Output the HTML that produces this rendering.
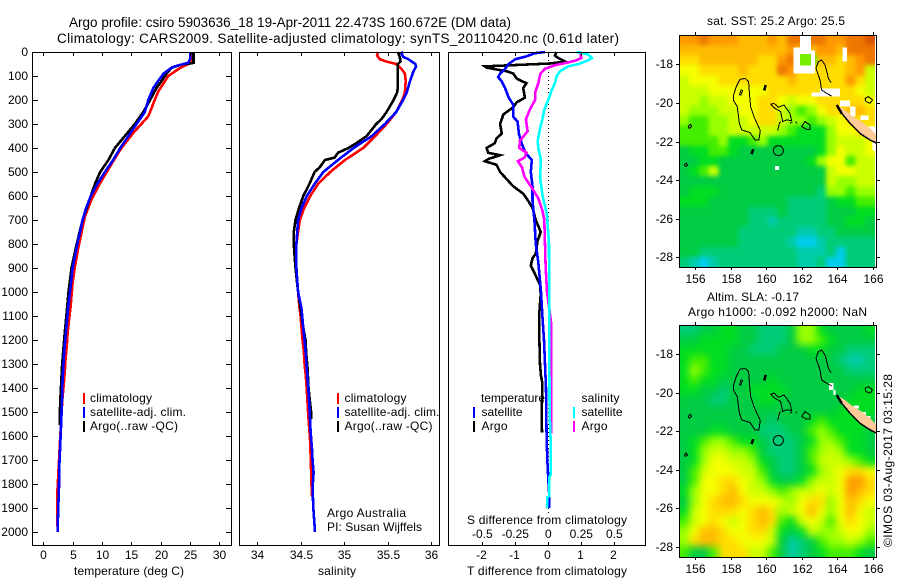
<!DOCTYPE html>
<html>
<head>
<meta charset="utf-8">
<title>Argo profile</title>
<style>
html,body{margin:0;padding:0;background:#fff;}
svg{display:block;font-family:"Liberation Sans",sans-serif;font-size:12px;fill:#000;}
text{fill:#000;}
.t{font-size:13.5px;}
.frame{fill:none;stroke:#000;stroke-width:1;shape-rendering:crispEdges;}
.tick{stroke:#000;stroke-width:1;shape-rendering:crispEdges;}
.prof{fill:none;stroke-width:2.6;shape-rendering:crispEdges;stroke-linejoin:miter;}
.coast{fill:none;stroke:#000;stroke-width:1;shape-rendering:crispEdges;}
.cell{shape-rendering:crispEdges;}
</style>
</head>
<body>
<svg id="chart" xmlns="http://www.w3.org/2000/svg" width="900" height="580" viewBox="0 0 900 580">
  <defs>
    <clipPath id="clipSst"><rect x="680" y="35" width="197" height="232"/></clipPath>
    <clipPath id="clipSla"><rect x="680" y="325" width="197" height="232"/></clipPath>
    <filter id="softSst" filterUnits="userSpaceOnUse" x="640" y="0" width="260" height="300" color-interpolation-filters="sRGB"><feGaussianBlur stdDeviation="2.5"/></filter>
    <filter id="softSla" filterUnits="userSpaceOnUse" x="640" y="290" width="260" height="290" color-interpolation-filters="sRGB"><feGaussianBlur stdDeviation="4"/></filter>
  </defs>
  <rect x="0" y="0" width="900" height="580" fill="#fff"/>

  <text class="t" x="69" y="27" textLength="442" lengthAdjust="spacing">Argo profile: csiro 5903636_18 19-Apr-2011 22.473S 160.672E (DM data)</text>
  <text class="t" x="57" y="43" textLength="562" lengthAdjust="spacing">Climatology: CARS2009. Satellite-adjusted climatology: synTS_20110420.nc (0.61d later)</text>

  <g id="marks"></g>

  <rect class="frame" x="32.5" y="52.5" width="199" height="493"/>
  <rect class="frame" x="239.5" y="52.5" width="200" height="493"/>
  <rect class="frame" x="448.5" y="52.5" width="197" height="493"/>

  <text x="74" y="575" textLength="110" lengthAdjust="spacing">temperature (deg C)</text>
  <text x="318" y="575" textLength="38" lengthAdjust="spacing">salinity</text>
  <text x="467" y="575" textLength="160" lengthAdjust="spacing">T difference from climatology</text>
  <text x="467" y="524" textLength="160" lengthAdjust="spacing">S difference from climatology</text>

  <g>
    <rect x="83" y="393" width="2" height="11" fill="#f00"/>
    <rect x="83" y="407" width="2" height="11" fill="#00f"/>
    <rect x="83" y="421" width="2" height="11" fill="#000"/>
    <text x="90" y="402" textLength="62" lengthAdjust="spacing">climatology</text>
    <text x="90" y="416" textLength="96" lengthAdjust="spacing">satellite-adj. clim.</text>
    <text x="90" y="430" textLength="88" lengthAdjust="spacing">Argo(..raw -QC)</text>
  </g>
  <g>
    <rect x="337" y="393" width="2" height="11" fill="#f00"/>
    <rect x="337" y="407" width="2" height="11" fill="#00f"/>
    <rect x="337" y="421" width="2" height="11" fill="#000"/>
    <text x="344.5" y="402" textLength="62" lengthAdjust="spacing">climatology</text>
    <text x="344.5" y="416" textLength="95" lengthAdjust="spacing">satellite-adj. clim.</text>
    <text x="344.5" y="430" textLength="88" lengthAdjust="spacing">Argo(..raw -QC)</text>
    <text x="327" y="517" textLength="79" lengthAdjust="spacing">Argo Australia</text>
    <text x="327" y="531" textLength="95" lengthAdjust="spacing">PI: Susan Wijffels</text>
  </g>
  <g>
    <text x="481" y="402" textLength="64" lengthAdjust="spacing">temperature</text>
    <rect x="473" y="407" width="2" height="11" fill="#00f"/>
    <rect x="473" y="421" width="2" height="11" fill="#000"/>
    <text x="481.5" y="416" textLength="41" lengthAdjust="spacing">satellite</text>
    <text x="481.5" y="430" textLength="26" lengthAdjust="spacing">Argo</text>
    <text x="581.5" y="402" textLength="38" lengthAdjust="spacing">salinity</text>
    <rect x="573" y="407" width="2" height="11" fill="#0ff"/>
    <rect x="573" y="421" width="2" height="11" fill="#f0f"/>
    <text x="581.5" y="416" textLength="41" lengthAdjust="spacing">satellite</text>
    <text x="581.5" y="430" textLength="26" lengthAdjust="spacing">Argo</text>
  </g>

  <text x="707" y="25" textLength="138" lengthAdjust="spacing">sat. SST: 25.2  Argo: 25.5</text>
  <text x="707" y="301" textLength="92" lengthAdjust="spacing">Altim. SLA: -0.17</text>
  <text x="688" y="316" textLength="179" lengthAdjust="spacing">Argo h1000: -0.092  h2000: NaN</text>
  <text transform="translate(892 547) rotate(-90)" x="0" y="0" textLength="173" lengthAdjust="spacing">©IMOS 03-Aug-2017 03:15:28</text>
</svg>
<script>
/* ---------- profile axis data ---------- */
const depthTicks = [0,100,200,300,400,500,600,700,800,900,1000,1100,1200,1300,1400,1500,1600,1700,1800,1900,2000];
const tempTicks = [0,5,10,15,20,25,30];
const salTicks = [34,34.5,35,35.5,36];
const salTickLabels = ['34','34.5','35','35.5','36'];
const tDiffTicks = [-2,-1,0,1,2];
const sDiffTicks = [-0.5,-0.25,0,0.25,0.5];
const sDiffTickLabels = ['-0.5','-0.25','0','0.25','0.5'];

/* ---------- temperature profiles ---------- */
const tempClimDepth = [0,46,53,67,100,130,164,199,268,338,407,476,546,615,685,754,824,893,962,1061,1117,1172,1228,1276,1325,1373,1450,1600,1839,2000];
const tempClimValue = [25.1,25.3,24.4,23.3,21.3,20.5,19.6,19.0,17.9,15.3,13.1,11.4,9.7,8.2,7.1,6.5,5.9,5.4,5.0,4.66,4.375,4.15,3.98,3.8,3.69,3.52,3.24,2.9,2.39,2.44];
const tempSatDepth = [0,30,45,50,60,70,90,120,150,200,250,300,350,400,450,500,550,600,650,700,750,800,850,900,1000,1103,1172,1242,1311,1394,1450,1533,1630,1728,1811,1894,1990,2000];
const tempSatValue = [25.1,25.0,24.7,23.9,22.4,21.6,20.5,19.6,18.75,17.9,17.3,15.9,14.5,13.1,11.9,10.5,9.2,8.1,7.3,6.7,6.25,5.8,5.4,5.0,4.55,4.09,3.86,3.58,3.41,3.24,3.18,3.07,2.9,2.73,2.67,2.56,2.44,2.44];
const tempArgoDepth = [0,45,48,52,65,90,120,150,200,250,300,350,400,450,500,550,600,650,700,800,900,1000,1103,1172,1242,1311,1394,1450,1533,1555];
const tempArgoValue = [25.6,25.6,25.0,23.6,21.9,21.0,20.2,19.3,18.2,17.05,15.6,13.9,12.2,11.1,9.7,8.8,8.1,7.4,6.7,5.7,4.8,4.3,3.92,3.64,3.41,3.18,3.01,2.9,2.78,2.78];

/* ---------- salinity profiles ---------- */
const salClimDepth = [0,15,30,40,50,70,90,120,170,200,250,300,350,400,450,500,550,600,650,700,750,800,900,1000,1057,1105,1154,1202,1251,1301,1354,1415,1487,1550,1612,1714,1814,1853];
const salClimValue = [35.39,35.38,35.41,35.49,35.60,35.66,35.70,35.71,35.70,35.67,35.60,35.49,35.36,35.22,35.01,34.84,34.70,34.61,34.54,34.49,34.47,34.45,34.45,34.47,34.484,34.50,34.51,34.522,34.537,34.545,34.56,34.572,34.583,34.595,34.607,34.618,34.626,34.626];
const salSatDepth = [0,5,20,30,50,60,80,120,170,200,250,300,350,400,450,500,550,600,650,700,800,900,1000,1045,1072,1120,1179,1235,1290,1350,1415,1492,1582,1655,1703,1752,1815,1900,1975,2000];
const salSatValue = [35.68,35.66,35.68,35.74,35.82,35.83,35.80,35.76,35.72,35.68,35.60,35.47,35.32,35.11,34.93,34.76,34.66,34.57,34.51,34.47,34.45,34.45,34.47,34.495,34.51,34.522,34.537,34.553,34.564,34.576,34.59,34.603,34.614,34.63,34.637,34.649,34.637,34.645,34.66,34.66];
const salArgoDepth = [0,20,40,50,70,150,170,200,250,280,300,350,380,400,420,440,450,480,500,550,600,650,700,750,800,850,900,1000,1100,1150,1200,1260,1320,1400,1500,1530];
const salArgoValue = [35.62,35.64,35.65,35.62,35.62,35.62,35.61,35.57,35.49,35.43,35.37,35.26,35.14,35.05,34.93,34.89,34.78,34.72,34.66,34.60,34.53,34.48,34.44,34.42,34.42,34.43,34.44,34.47,34.51,34.53,34.555,34.565,34.58,34.59,34.62,34.62];

/* ---------- difference profiles ---------- */
const tDiffArgoDepth = [0,15,25,40,48,60,65,72,80,90,110,120,130,150,190,210,230,260,300,340,360,380,400,420,430,445,455,470,500,530,560,590,620,650,700,750,790,840,860,890,920,970,1010,1050,1100,1200,1300,1350,1380,1400,1500,1585];
const tDiffArgoValue = [0.25,0.2,0.3,0.52,0.05,-1.92,-1.87,-1.6,-1.26,-1.06,-0.96,-0.83,-0.66,-0.76,-0.71,-0.96,-1.06,-1.36,-1.46,-1.41,-1.57,-1.62,-1.87,-1.82,-1.46,-1.8,-1.92,-1.57,-1.46,-1.26,-1.06,-0.76,-0.61,-0.48,-0.38,-0.23,-0.33,-0.38,-0.48,-0.53,-0.42,-0.25,-0.23,-0.25,-0.28,-0.27,-0.25,-0.22,-0.18,-0.18,-0.2,-0.19];
const tDiffSatDepth = [0,5,20,30,50,70,90,105,120,150,190,220,270,290,340,380,420,450,500,560,620,700,800,880,1000,1100,1200,1300,1400,1500,1600,1700,1800,1850,1900];
const tDiffSatValue = [-0.1,-0.4,-0.71,-1.0,-1.2,-1.31,-1.46,-1.52,-1.42,-1.31,-1.2,-1.06,-1.06,-0.93,-0.89,-0.81,-0.69,-0.5,-0.53,-0.48,-0.48,-0.42,-0.38,-0.3,-0.22,-0.18,-0.13,-0.1,-0.07,-0.06,-0.05,-0.03,0.01,0.03,0.03];
const sDiffArgoDepth = [0,25,35,45,55,70,90,130,170,200,240,280,330,370,400,420,440,455,480,520,570,610,660,700,800,900,1000,1130,1500,1590];
const sDiffArgoValue = [0.24,0.25,0.21,0.14,0.05,-0.025,-0.06,-0.076,-0.1,-0.1,-0.14,-0.17,-0.157,-0.215,-0.22,-0.165,-0.18,-0.23,-0.2,-0.18,-0.12,-0.076,-0.045,-0.03,-0.025,-0.02,-0.01,0.022,0.022,0.022];
const sDiffSatDepth = [0,10,25,35,50,60,80,100,130,160,200,240,280,320,370,400,450,520,600,680,720,800,1000,1100,1300,1500,1650,1760,1770,1850,1855,1900];
const sDiffSatValue = [0.215,0.3,0.33,0.3,0.23,0.15,0.09,0.063,0.05,0.025,0,-0.03,-0.045,-0.063,-0.08,-0.076,-0.055,-0.063,-0.043,-0.01,-0.005,0.005,0.007,0.008,0.008,0.01,0.02,0.02,0.0076,0.0076,-0.0076,-0.0076];

/* ---------- map data (one letter per cell, low a .. high n) ---------- */
const mapLevels = 'abcdefghijklmn';
const mapColors = ['#00ccee','#00ccaa','#00cc77','#00cc44','#00dd22','#44ee00','#99ff00','#ccff00','#f4ff00','#ffdd00','#ffbb00','#ff9900','#ee7700','#dd5500'];
const sstGrid = [
'llmlllkkklkmmmmllmmn',
'kkkkkkkkkkklkkllkmmm',
'jjkkkkkkjjlmjfkkjklm',
'iijjjjkjjjmljjjjjklh',
'hiiijjjjjjjkjjjjjljh',
'hhhiiiiiijjjjjjjjjih',
'hhghhiiijjihiijjjjji',
'hggghhiijjhgfgijjkkj',
'gffgghhijjhggfghijjj',
'fffgghhhhhgfeeegiiji',
'ffffgeefgeeeeeeghhhi',
'deeffeddddddddegihhi',
'ddeedddddddddegiifhh',
'defhdddddddddddhiihh',
'dddddddddddddddhgghh',
'deeeddddddddddcggfgg',
'eeeddddddddccccdeeff',
'dddddddcccdccccdddee',
'dddddddccbcccccddeed',
'ddddddccccccbbccdddd',
'ddddddcccccbaabccccc',
'ddccccccccccbbbcaccc',
'cbabccccccccbbcaaccc'
];
const slaGrid = [
'ccddeeddcccdggedddde',
'ddeeeeddcccdggfedddd',
'eeeeeddcccdddeeddccc',
'effeedddddddddddcbbc',
'egfeeddddddddddddccc',
'efeedddddedddddddddd',
'eeddcddeeeedddddddee',
'dddccdddeedddddddeee',
'ddddddddddddddddeeee',
'dddddddddcdddefeeeed',
'dddeedddcccddfgfeeed',
'defggfeedcccdeggfeed',
'deghhggfdcccdfghgeed',
'degiihhgedccdfhhhgfe',
'dfhiiihhfdccdeghijji',
'dfiijjihgeddeghhillj',
'egiijkihhgfghhihilkj',
'dgijkkjiiihgijjgikji',
'ehijjjijkjghikigikih',
'fhijihijkjfehihfijih',
'gikkjiijjhedehgghiig',
'gjkkjjiiihdbcdfgghgf',
'fddfjjjhhfdbcdefffed'
];
const mapLonTicks = [156,158,160,162,164,166];
const mapLatTicksSst = [-18,-20,-22,-24,-26,-28];
const mapLatTicksSla = [-18,-20,-22,-24,-26,-28];
/* missing-data patches: lon west, lon east, lat north, lat south */
const sstMissing = [
 [161.89,162.51,-16.48,-17.12],[161.52,162.51,-17.12,-17.29],[161.52,162.74,-17.29,-18.47],
 [164.29,164.55,-17.12,-17.86],[163.02,164.14,-19.26,-19.68],[162.53,163.02,-19.47,-19.68],
 [164.14,164.71,-19.88,-20.19],[164.71,165.01,-20.19,-20.71],[165.31,165.76,-20.64,-20.88],
 [165.74,166.11,-21.23,-21.58],[165.98,166.24,-22.01,-22.47],[160.48,160.71,-23.27,-23.47],
 [166.11,166.4,-16.4,-28.6]
];
const sstGreenPatch = [161.89,162.51,-17.46,-18.07];
const slaMissing = [
 [163.52,163.77,-19.5,-19.85],[163.77,163.9,-19.85,-20.1],[164.89,165.2,-20.65,-20.8],
 [165.3,165.6,-21.0,-21.2],[165.6,165.85,-21.2,-21.4],[166.11,166.4,-16.4,-28.6]
];
/* coastlines as lon,lat pairs */
const coastLoops = [
 [[158.14,-19.64],[158.29,-19.19],[158.51,-18.78],[158.80,-18.73],[159.00,-18.90],[159.04,-19.42],[159.11,-20.19],[159.30,-20.71],[159.66,-21.44],[159.58,-21.92],[159.36,-21.92],[159.08,-21.54],[158.61,-21.40],[158.48,-21.06],[158.36,-20.19],[158.14,-19.85],[158.14,-19.64]],
 [[158.48,-19.6],[158.58,-19.33],[158.66,-19.36],[158.56,-19.6],[158.48,-19.6]],
 [[160.24,-20.07],[160.43,-20.02],[160.67,-20.23],[160.99,-20.11],[161.33,-20.54],[161.42,-20.92],[161.14,-20.88],[160.92,-20.97],[160.80,-20.45],[160.48,-20.28],[160.24,-20.07]],
 [[162.92,-17.86],[163.11,-17.78],[163.30,-18.03],[163.43,-18.47],[163.49,-18.73],[163.64,-18.95]],
 [[162.92,-17.86],[162.79,-18.21],[163.02,-18.81],[163.11,-19.33],[163.39,-19.50],[163.67,-19.64]],
 [[160.63,-21.44],[160.73,-21.06],[160.80,-20.97]],
 [[161.33,-21.06],[161.46,-20.97]],
 [[161.65,-20.97],[161.70,-21.06]],
 [[161.98,-21.23],[162.17,-20.97],[162.45,-21.14],[162.45,-21.37],[162.27,-21.37],[161.98,-21.23]],
 [[155.6,-21.2],[155.74,-21.11],[155.79,-21.23],[155.66,-21.32],[155.6,-21.2]],
 [[155.38,-23.2],[155.5,-23.12],[155.56,-23.24],[155.44,-23.3],[155.38,-23.2]],
 [[165.55,-19.76],[165.74,-19.68],[165.98,-19.85],[165.83,-20.02],[165.6,-19.93],[165.55,-19.76]]
];
const coastThick = [
 [[159.88,-19.36],[159.96,-19.07]],
 [[159.17,-22.66],[159.26,-22.4]],
 [[163.96,-20.11],[164.24,-20.54]]
];
const noumeaLand = [[163.96,-20.11],[164.42,-20.37],[164.87,-20.71],[165.36,-20.97],[165.83,-21.32],[166.2,-21.66],[166.2,-22.09],[165.83,-21.92],[165.27,-21.58],[164.71,-21.06],[164.24,-20.54]];
const noumeaShore = [[164.24,-20.54],[164.71,-21.06],[165.27,-21.58],[165.83,-21.92],[166.2,-22.09]];
const floatLon = 160.672;
const floatLat = -22.473;

/* ---------- scales ---------- */
const yDepth = d => 52 + d * 0.24;
const xTemp = t => 43.3 + t * 5.867;
const xSal = s => 257.3 + (s - 34) * 86.8;
const xTDiff = t => 548.3 + t * 33;
const xSDiff = s => 548.3 + s * 132;
const xLon = lon => 695.3 + (lon - 156) * 17.77;
const ySst = lat => 64.3 + (-18 - lat) * 19.3;
const ySla = lat => 354.3 + (-18 - lat) * 19.27;

const NS = 'http://www.w3.org/2000/svg';
const root = document.getElementById('marks');
function make(tag, attrs, parent) {
  const e = document.createElementNS(NS, tag);
  for (const k in attrs) e.setAttribute(k, attrs[k]);
  (parent || root).appendChild(e);
  return e;
}
function tick(x1, y1, x2, y2) {
  const el = make('line', {x1: x1, y1: y1, x2: x2, y2: y2, class: 'tick'});
  
  
}
function label(x, y, anchor, str) {
  const el = make('text', {x: x, y: y, 'text-anchor': anchor});
  el.textContent = str;
  
  
}
function profile(xs, depths, values, color, name) {
  const pts = depths.map((d, i) => xs(values[i]).toFixed(1) + ',' + yDepth(d).toFixed(1)).join(' ');
  const el = make('polyline', {points: pts, class: 'prof', stroke: color});
  
  
}

/* ---------- difference zero line ---------- */
const zeroLine = make('line', {x1: xTDiff(0), y1: 52, x2: xTDiff(0), y2: 513, stroke: '#000', 'stroke-width': 1, 'stroke-dasharray': '1 3', 'shape-rendering': 'crispEdges'});



/* ---------- profile lines ---------- */
profile(xTemp, tempClimDepth, tempClimValue, '#f00', 'temperature-climatology-line');
profile(xTemp, tempArgoDepth, tempArgoValue, '#000', 'temperature-argo-line');
profile(xTemp, tempSatDepth, tempSatValue, '#00f', 'temperature-satellite-line');
profile(xSal, salClimDepth, salClimValue, '#f00', 'salinity-climatology-line');
profile(xSal, salArgoDepth, salArgoValue, '#000', 'salinity-argo-line');
profile(xSal, salSatDepth, salSatValue, '#00f', 'salinity-satellite-line');
profile(xTDiff, tDiffArgoDepth, tDiffArgoValue, '#000', 't-difference-argo-line');
profile(xTDiff, tDiffSatDepth, tDiffSatValue, '#00f', 't-difference-satellite-line');
profile(xSDiff, sDiffArgoDepth, sDiffArgoValue, '#f0f', 's-difference-argo-line');
profile(xSDiff, sDiffSatDepth, sDiffSatValue, '#0ff', 's-difference-satellite-line');

/* ---------- profile axes ---------- */
depthTicks.forEach(d => {
  const y = Math.round(yDepth(d)) + 0.5;
  tick(32, y, 38, y);
  tick(226, y, 232, y);
  label(28, y + 3.5, 'end', String(d));
});
tempTicks.forEach(t => {
  const x = Math.round(xTemp(t)) + 0.5;
  tick(x, 52, x, 56);
  tick(x, 542, x, 546);
  label(x, 559, 'middle', String(t));
});
salTicks.forEach((s, i) => {
  const x = Math.round(xSal(s)) + 0.5;
  tick(x, 52, x, 56);
  tick(x, 542, x, 546);
  label(x, 559, 'middle', salTickLabels[i]);
});
tDiffTicks.forEach(t => {
  const x = Math.round(xTDiff(t)) + 0.5;
  tick(x, 52, x, 56);
  tick(x, 542, x, 546);
  label(x - 1, 559, 'middle', String(t));
});
sDiffTicks.forEach((s, i) => {
  label(xSDiff(s), 538, 'middle', sDiffTickLabels[i]);
});

/* ---------- maps ---------- */
function drawMap(grid, yLat, top, clipId, filterId, missing, latTicks, prefix) {
  const g = make('g', {'clip-path': 'url(#' + clipId + ')'});
  
  
  const soft = make('g', {filter: 'url(#' + filterId + ')'}, g);
  
  
  const lonStart = 155.1, lonStep = 0.5505, latStart = -16.48, latStep = 0.5226;
  const lastRow = grid.length - 1;
  grid.forEach((row, r) => {
    for (let c = 0; c < row.length; c++) {
      let x0 = xLon(lonStart + c * lonStep), x1 = xLon(lonStart + (c + 1) * lonStep);
      let y0 = yLat(latStart - r * latStep), y1 = yLat(latStart - (r + 1) * latStep);
      if (c === 0) x0 -= 14;
      if (c === row.length - 1) x1 += 14;
      if (r === 0) y0 -= 14;
      if (r === lastRow) y1 += 14;
      const cell = make('rect', {x: x0.toFixed(2), y: y0.toFixed(2), width: (x1 - x0 + 0.3).toFixed(2), height: (y1 - y0 + 0.3).toFixed(2), fill: mapColors[mapLevels.indexOf(row[c])], class: 'cell'}, soft);
      
      
    }
  });
  missing.forEach(p => {
    const patch = make('rect', {x: xLon(p[0]), y: yLat(p[2]), width: xLon(p[1]) - xLon(p[0]), height: yLat(p[3]) - yLat(p[2]), fill: '#fff', class: 'cell'}, g);
    
    
  });
  if (prefix === 'sst') {
    const sstPatch = make('rect', {x: xLon(sstGreenPatch[0]), y: ySst(sstGreenPatch[2]), width: xLon(sstGreenPatch[1]) - xLon(sstGreenPatch[0]), height: ySst(sstGreenPatch[3]) - ySst(sstGreenPatch[2]), fill: '#77ee00', class: 'cell'}, g);
    
    
  }
  const land = make('polygon', {points: noumeaLand.map(p => xLon(p[0]).toFixed(1) + ',' + yLat(p[1]).toFixed(1)).join(' '), fill: '#ffcc99'}, g);
  
  
  const shore = make('polyline', {points: noumeaShore.map(p => xLon(p[0]).toFixed(1) + ',' + yLat(p[1]).toFixed(1)).join(' '), class: 'coast', style: 'stroke-width:1.5'}, g);
  
  
  coastLoops.forEach(loop => {
    const el = make('polyline', {points: loop.map(p => xLon(p[0]).toFixed(1) + ',' + yLat(p[1]).toFixed(1)).join(' '), class: 'coast'}, g);
    
    
  });
  coastThick.forEach(loop => {
    const el = make('polyline', {points: loop.map(p => xLon(p[0]).toFixed(1) + ',' + yLat(p[1]).toFixed(1)).join(' '), class: 'coast', style: 'stroke-width:2.5'}, g);
    
    
  });
  const marker = make('circle', {cx: xLon(floatLon), cy: yLat(floatLat), r: 5, fill: 'none', stroke: '#000', 'stroke-width': 1}, g);
  
  
  const frame = make('rect', {x: 679.5, y: top + 0.5, width: 197, height: 232, class: 'frame'});
  
  
  mapLonTicks.forEach(lon => {
    const x = Math.round(xLon(lon)) + 0.5;
    tick(x, top - 3, x, top);
    tick(x, top + 232, x, top + 235);
    label(x, top + 248, 'middle', String(lon));
  });
  latTicks.forEach(lat => {
    const y = Math.round(yLat(lat)) + 0.5;
    tick(676, y, 680, y);
    tick(877, y, 880, y);
    label(673, y + 3.5, 'end', String(lat));
  });
}
drawMap(sstGrid, ySst, 35, 'clipSst', 'softSst', sstMissing, mapLatTicksSst, 'sst');
drawMap(slaGrid, ySla, 325, 'clipSla', 'softSla', slaMissing, mapLatTicksSla, 'sla');
</script>
</body>
</html>
